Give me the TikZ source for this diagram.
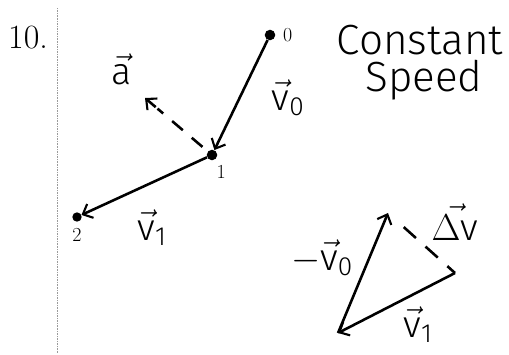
\documentclass[tikz,border=0pt]{standalone}
\usepackage{fix-cm}
\usepackage{amsmath}
\usepackage{fontspec}
\newfontfamily\handfont{Fira Sans Light}
\definecolor{SheetGray}{HTML}{9A9A9A}
\usepackage{tikz}
\usetikzlibrary{arrows.meta,positioning,calc}
\newcommand{\handvec}[2]{$\vec{\text{\handfont #1}}_{\text{\handfont #2}}$}

\begin{document}
\begin{tikzpicture}[
    x=0.03cm, y=-0.03cm,
    dot/.style={circle, fill=black, inner sep=0pt, minimum size=9pt},
    vecline/.style={line width=2.2pt, -{Straight Barb[length=7pt,width=13pt,line width=1.8pt]}},
    dashline/.style={line width=2.2pt, dash pattern=on 12pt off 10pt},
    ptlabel/.style={font=\fontsize{17}{18}\selectfont},
    handlabel/.style={font=\fontsize{32}{34}\selectfont, inner sep=0pt}
  ]
    \useasboundingbox (0,0) rectangle (509,354);

    % margin of the sheet
    \draw[SheetGray, densely dotted] (57,8) -- (57,354);

    \node[font=\fontsize{29}{30}\selectfont] (num) at (28,38) {10.};

    % positions of the object
    \node[dot] (p0) at (270,35) {};
    \node[dot] (p1) at (212,155) {};
    \node[dot, minimum size=8pt] (p2) at (77,217) {};
    \node[ptlabel, right=3pt of p0] (l0) {0};
    \node[ptlabel, below right=2pt and -3pt of p1] (l1) {1};
    \node[ptlabel, below=2pt of p2] (l2) {2};

    \draw[vecline] (p0) -- (p1);
    \draw[vecline] (p1) -- (p2);
    \coordinate (atip) at (145,98);
    \draw[dashline, shorten <=6pt, shorten >=14pt] (p1) -- (atip);
    \draw[vecline] ($(atip)!12pt!(p1)$) -- (atip);

    \node[handlabel] (va) at (122,72) {\handvec{a}{}};
    \node[handlabel] (v0) at (288,98) {\handvec{v}{0}};
    \node[handlabel] (v1) at (152,228) {\handvec{v}{1}};

    \node[font=\handfont\fontsize{36}{38}\selectfont] (title) at (420,40) {Constant};
    \node[font=\handfont\fontsize{36}{38}\selectfont] (speed) at (424,80) {Speed};

    % vector difference
    \coordinate (ttop) at (388,213);
    \coordinate (tbot) at (338,333);
    \coordinate (tright) at (455,273);
    \draw[vecline] (tright) -- (tbot);
    \draw[vecline] (tbot) -- (ttop);
    \draw[dashline, dash pattern=on 14pt off 11pt, shorten <=18pt] (ttop) -- (tright);

    \node[handlabel] (mv0) at (322,258) {$-$\handvec{v}{0}};
    \node[handlabel] (dv) at (455,222) {$\vec{\text{\handfont $\Delta$v}}$};
    \node[handlabel] (tv1) at (418,325) {\handvec{v}{1}};
  \end{tikzpicture}
\end{document}
